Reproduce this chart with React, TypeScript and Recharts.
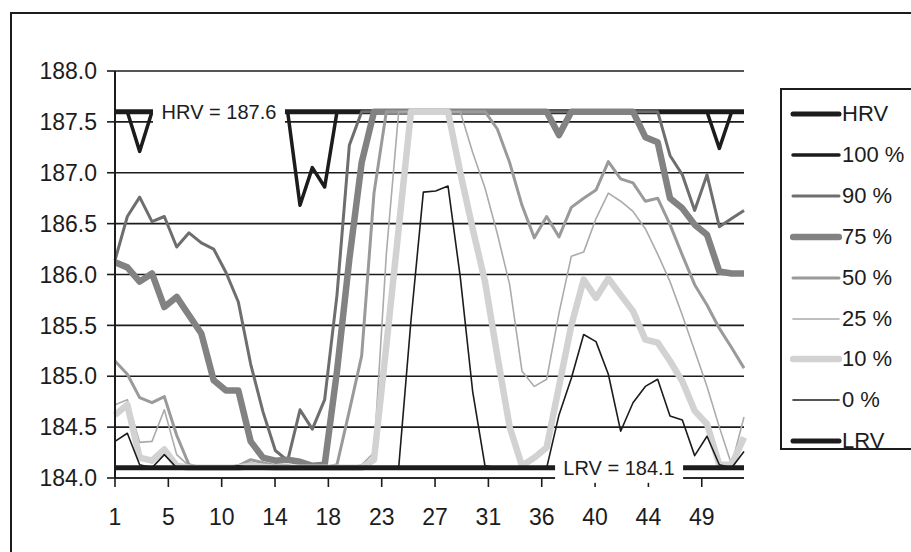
import { LineChart, Line, XAxis, YAxis, CartesianGrid, ReferenceDot } from "recharts"

const FONT = '"Liberation Sans", Arial, Helvetica, sans-serif'
const INK = "#1c1c1c"

// control limits
const HRV = 187.6
const LRV = 184.1

// readings per sample (52 samples), one array per percentile
const p100 = [
  187.6, 187.6, 187.21, 187.6, 187.6, 187.6, 187.6, 187.6, 187.6, 187.6,
  187.6, 187.6, 187.6, 187.6, 187.6, 186.68, 187.05, 186.86, 187.6, 187.6,
  187.6, 187.6, 187.6, 187.6, 187.6, 187.6, 187.6, 187.6, 187.6, 187.6,
  187.6, 187.6, 187.6, 187.6, 187.6, 187.6, 187.6, 187.6, 187.6, 187.6,
  187.6, 187.6, 187.6, 187.6, 187.6, 187.6, 187.6, 187.6, 187.6, 187.24,
  187.6, 187.6,
]
const p90 = [
  186.14, 186.57, 186.76, 186.52, 186.57, 186.27, 186.41, 186.31, 186.25, 186.02,
  185.73, 185.12, 184.65, 184.27, 184.17, 184.67, 184.48, 184.77, 185.8, 187.27,
  187.6, 187.6, 187.6, 187.6, 187.6, 187.6, 187.6, 187.6, 187.6, 187.6,
  187.6, 187.6, 187.6, 187.6, 187.6, 187.6, 187.6, 187.6, 187.6, 187.6,
  187.6, 187.6, 187.6, 187.6, 187.6, 187.17, 186.98, 186.63, 186.98, 186.47,
  186.55, 186.63,
]
const p75 = [
  186.12, 186.07, 185.93, 186.01, 185.68, 185.78, 185.6, 185.42, 184.96, 184.86,
  184.86, 184.36, 184.2, 184.17, 184.18, 184.16, 184.12, 184.13, 185.05, 186.15,
  187.1, 187.6, 187.6, 187.6, 187.6, 187.6, 187.6, 187.6, 187.6, 187.6,
  187.6, 187.6, 187.6, 187.6, 187.6, 187.6, 187.37, 187.6, 187.6, 187.6,
  187.6, 187.6, 187.6, 187.35, 187.3, 186.75, 186.65, 186.49, 186.39, 186.03,
  186.01, 186.01,
]
const p50 = [
  185.15, 185.02, 184.79, 184.74, 184.8, 184.42, 184.13, 184.1, 184.1, 184.1,
  184.12, 184.18, 184.15, 184.12, 184.12, 184.1, 184.1, 184.1, 184.13, 184.66,
  185.2, 186.8, 187.6, 187.6, 187.6, 187.6, 187.6, 187.6, 187.6, 187.6,
  187.6, 187.43, 187.1, 186.68, 186.36, 186.57, 186.37, 186.66, 186.75, 186.83,
  187.11, 186.94, 186.9, 186.72, 186.75, 186.49, 186.19, 185.9, 185.7, 185.47,
  185.28, 185.08,
]
const p25 = [
  184.72, 184.77, 184.35, 184.36, 184.67, 184.23, 184.12, 184.1, 184.1, 184.1,
  184.13, 184.15, 184.13, 184.11, 184.1, 184.1, 184.1, 184.1, 184.1, 184.1,
  184.13, 184.25, 186.2, 187.6, 187.6, 187.6, 187.6, 187.6, 187.6, 187.2,
  186.85, 186.4, 185.9, 185.05, 184.9, 184.97, 185.62, 186.18, 186.22, 186.55,
  186.8, 186.72, 186.62, 186.45, 186.2, 185.93, 185.6, 185.25, 184.9, 184.5,
  184.13, 184.6,
]
const p10 = [
  184.62, 184.72, 184.2, 184.17, 184.28, 184.12, 184.1, 184.1, 184.1, 184.1,
  184.1, 184.12, 184.11, 184.1, 184.1, 184.1, 184.1, 184.1, 184.1, 184.1,
  184.1, 184.18, 185.3, 186.45, 187.6, 187.6, 187.6, 187.6, 187.0, 186.45,
  185.93, 185.2, 184.5, 184.12, 184.2, 184.3, 184.9, 185.5, 185.95, 185.77,
  185.96, 185.8, 185.64, 185.36, 185.33, 185.15, 184.95, 184.66, 184.53, 184.13,
  184.13, 184.4,
]
const p0 = [
  184.36, 184.44, 184.13, 184.1, 184.23, 184.1, 184.1, 184.1, 184.1, 184.1,
  184.12, 184.1, 184.1, 184.1, 184.1, 184.1, 184.1, 184.1, 184.1, 184.1,
  184.1, 184.1, 184.1, 184.1, 185.55, 186.81, 186.82, 186.87, 185.97, 184.85,
  184.12, 184.1, 184.1, 184.1, 184.1, 184.1, 184.62, 184.98, 185.41, 185.34,
  185.02, 184.46, 184.74, 184.9, 184.97, 184.61, 184.57, 184.22, 184.41, 184.13,
  184.1, 184.26,
]

const yTicks = [184.0, 184.5, 185.0, 185.5, 186.0, 186.5, 187.0, 187.5, 188.0]
const xTickLabels = ["1", "5", "10", "14", "18", "23", "27", "31", "36", "40", "44", "49"]
const X_TICK_STEP = 4.325
const xTicks = xTickLabels.map((_, k) => 1 + k * X_TICK_STEP)

const rows = p100.map((v, i) => ({
  n: i + 1,
  hrv: HRV,
  p100: v,
  p90: p90[i],
  p75: p75[i],
  p50: p50[i],
  p25: p25[i],
  p10: p10[i],
  p0: p0[i],
  lrv: LRV,
}))

const series = [
  { key: "hrv", name: "HRV", color: INK, width: 5 },
  { key: "p100", name: "100 %", color: INK, width: 3.5 },
  { key: "p90", name: "90 %", color: "#6e6e6e", width: 3 },
  { key: "p75", name: "75 %", color: "#828282", width: 6.5 },
  { key: "p50", name: "50 %", color: "#9a9a9a", width: 3 },
  { key: "p25", name: "25 %", color: "#ababab", width: 1.6 },
  { key: "p10", name: "10 %", color: "#d2d2d2", width: 6.5 },
  { key: "p0", name: "0 %", color: INK, width: 1.6 },
  { key: "lrv", name: "LRV", color: INK, width: 5 },
]

function LimitTag({ viewBox, text, w }: { viewBox: any; text: string; w: number }) {
  const cx = viewBox.x + (viewBox.width || 0) / 2
  const cy = viewBox.y + (viewBox.height || 0) / 2
  return (
    <g>
      <rect x={cx - w / 2} y={cy - 14} width={w} height={29} fill="#fff" />
      <text
        x={cx}
        y={cy}
        dy="0.36em"
        textAnchor="middle"
        fontSize={20}
        fontFamily={FONT}
        fill={INK}
      >
        {text}
      </text>
    </g>
  )
}

function LegendBox() {
  return (
    <div
      style={{
        position: "absolute",
        left: 780,
        top: 88,
        width: 160,
        height: 358,
        border: `2px solid ${INK}`,
        background: "#fff",
        fontFamily: FONT,
        fontSize: 22,
        color: INK,
      }}
    >
      {series.map((s, i) => (
        <div
          key={s.key}
          style={{ position: "absolute", left: 8, top: 9 + i * 40.9, height: 30, display: "flex", alignItems: "center" }}
        >
          <svg width={52} height={12} style={{ display: "block" }}>
            <line x1={3} y1={6} x2={49} y2={6} stroke={s.color} strokeWidth={s.width} strokeLinecap="round" />
          </svg>
          <span>{s.name}</span>
        </div>
      ))}
    </div>
  )
}

export default function App() {
  return (
    <div style={{ position: "absolute", left: 0, top: 0, width: 911, height: 552, overflow: "hidden", background: "#fff" }}>
      <div
        style={{
          position: "absolute",
          left: 10,
          top: 12,
          width: 1000,
          height: 1000,
          border: `2px solid ${INK}`,
        }}
      />
      <div style={{ position: "absolute", left: 0, top: 0 }}>
        <LineChart width={911} height={552} data={rows} margin={{ top: 71, right: 167, bottom: 34, left: 0 }}>
          <CartesianGrid vertical={false} stroke={INK} strokeWidth={1.6} />
          <XAxis
            dataKey="n"
            type="number"
            domain={[1, 52]}
            ticks={xTicks}
            interval={0}
            tickFormatter={(_v: number, idx: number) => xTickLabels[idx]}
            height={40}
            tickSize={9}
            tickMargin={22}
            axisLine={{ stroke: INK, strokeWidth: 1.6 }}
            tickLine={{ stroke: INK, strokeWidth: 1.6 }}
            tick={{ fill: INK, fontSize: 23, fontFamily: FONT }}
          />
          <YAxis
            type="number"
            domain={[184, 188]}
            ticks={yTicks}
            interval={0}
            tickFormatter={(v: number) => v.toFixed(1)}
            width={115}
            tickSize={8}
            tickMargin={10}
            axisLine={{ stroke: INK, strokeWidth: 2 }}
            tickLine={{ stroke: INK, strokeWidth: 1.6 }}
            tick={{ fill: INK, fontSize: 23, fontFamily: FONT }}
          />
          {series.map((s) => (
            <Line
              key={s.key}
              type="linear"
              dataKey={s.key}
              name={s.name}
              stroke={s.color}
              strokeWidth={s.width}
              strokeLinejoin="round"
              dot={false}
              activeDot={false}
              isAnimationActive={false}
            />
          ))}
          <ReferenceDot
            x={9.43}
            y={HRV}
            r={0}
            stroke="none"
            fill="none"
            label={(p: any) => <LimitTag viewBox={p.viewBox} text={`HRV = ${HRV}`} w={132} />}
          />
          <ReferenceDot
            x={41.87}
            y={LRV}
            r={0}
            stroke="none"
            fill="none"
            label={(p: any) => <LimitTag viewBox={p.viewBox} text={`LRV = ${LRV}`} w={128} />}
          />
        </LineChart>
      </div>
      <LegendBox />
    </div>
  )
}
